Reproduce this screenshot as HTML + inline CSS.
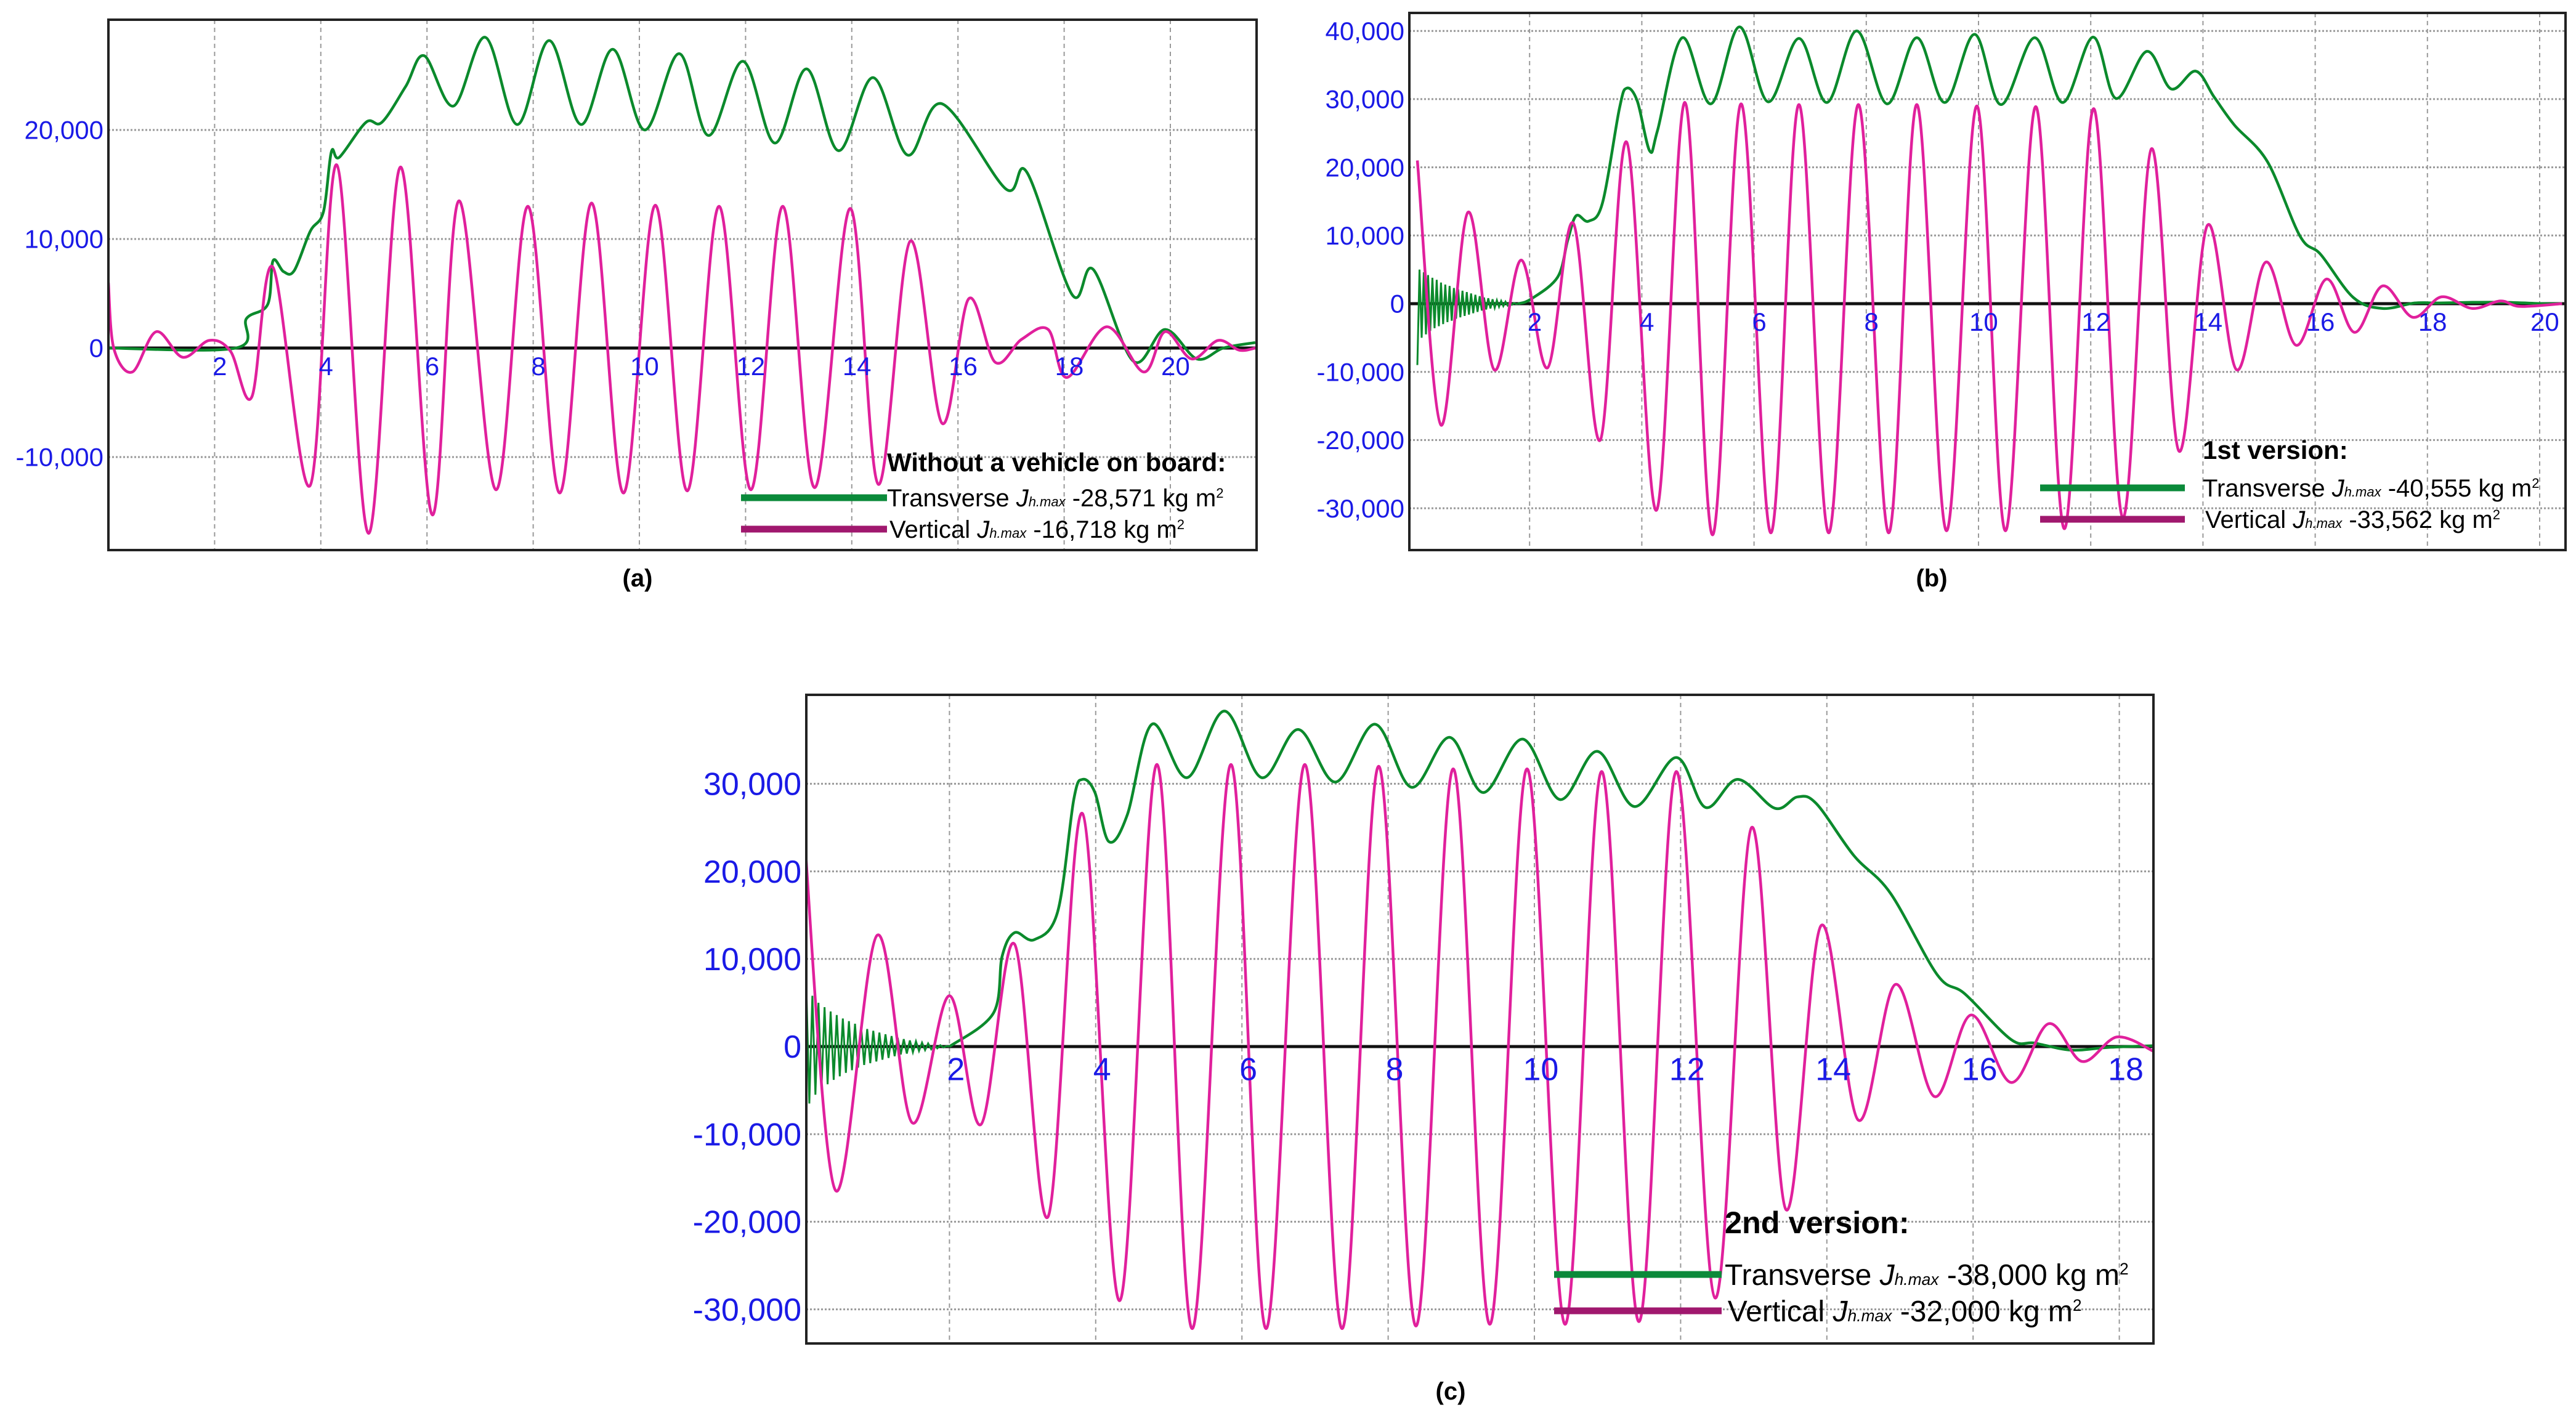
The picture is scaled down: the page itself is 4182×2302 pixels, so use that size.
<!DOCTYPE html>
<html><head><meta charset="utf-8"><style>
html,body{margin:0;padding:0;background:#fff;width:4182px;height:2302px;overflow:hidden}
svg{display:block}
text{font-family:"Liberation Sans",sans-serif}
</style></head><body>
<svg id="fig" width="4182" height="2302" viewBox="0 0 4182 2302" xmlns="http://www.w3.org/2000/svg">
<rect width="4182" height="2302" fill="#fff"/>
</svg>
<script>
// ---------- Panel (a) data ----------
const aVertT=[0,0.1,0.45,0.9,1.4,1.9,2.3,2.7,3.1,3.8,4.3,4.9,5.5,6.1,6.6,7.3,7.9,8.5,9.1,9.7,10.3,10.9,11.5,12.1,12.7,13.3,13.97,14.5,15.1,15.7,16.2,16.7,17.2,17.7,18.05,18.8,19.5,19.9,20.4,20.9,21.3,21.6];
const aVertV=[6000,0,-2200,1500,-850,700,-300,-4500,7400,-12600,16800,-17000,16600,-15300,13500,-13000,13000,-13300,13300,-13300,13100,-13100,13000,-13000,13000,-12800,12800,-12500,9800,-6900,4500,-1300,800,1700,-2700,1950,-2200,1500,-1000,700,-200,0];
const aTranT=[0,2.4,2.6,3.0,3.1,3.3,3.5,3.8,4.05,4.2,4.35,4.85,5.15,5.6,5.95,6.5,7.1,7.7,8.3,8.9,9.5,10.1,10.75,11.3,11.95,12.55,13.15,13.75,14.4,15.05,15.7,16.9,17.3,18.15,18.55,19.3,19.9,20.5,21.0,21.6];
const aTranV=[0,0,2700,4000,8000,7000,7100,10700,12500,18000,17500,20700,20700,24000,26800,22200,28500,20500,28200,20500,27400,20000,27000,19500,26300,18800,25600,18100,24800,17700,22400,14600,16100,4900,7200,-1200,1700,-1000,0,500];
const aYTicks=[20000,10000,0,-10000];
const aYLabels=["20,000","10,000","0","-10,000"];
const aXTicks=[2,4,6,8,10,12,14,16,18,20];

// ---------- Panel (b) data ----------
const bVertT=[0,0.42,0.9,1.37,1.85,2.32,2.78,3.26,3.73,4.26,4.77,5.26,5.77,6.3,6.8,7.33,7.86,8.4,8.9,9.43,9.97,10.48,11.02,11.53,12.05,12.57,13.08,13.57,14.08,14.6,15.12,15.66,16.2,16.7,17.2,17.74,18.25,18.8,19.3,19.65,20.4];
const bVertV=[21000,-17800,13400,-9700,6400,-9400,11800,-20000,23700,-30300,29500,-33900,29300,-33600,29200,-33600,29200,-33600,29200,-33300,29000,-33300,28900,-33000,28600,-31400,22700,-21600,11500,-9700,6100,-6100,3600,-4200,2600,-2000,1000,-700,400,-400,0];
const bTranT=[1.8,2.03,2.5,2.68,2.83,3.05,3.3,3.6,3.73,3.92,4.14,4.28,4.72,5.23,5.74,6.25,6.8,7.3,7.83,8.37,8.9,9.4,9.93,10.4,11.0,11.5,12.04,12.45,13.0,13.43,13.87,14.2,14.56,15.15,15.73,16.1,16.68,17.2,17.77,18.2,18.8,19.37,20.1,20.4];
const bTranV=[0,700,3900,9300,12900,12100,14800,28600,31600,29700,22400,25400,39000,29300,40600,29600,38900,29500,40000,29300,39000,29500,39500,29200,39000,29500,39100,30100,37000,31500,34100,30300,26200,20800,9900,7200,900,-700,100,100,200,200,0,0];
const bChatter=[-9000,5000,-5000,4600,-4500,4200,-4000,3800,-3600,3500,-3300,3100,-3000,2800,-2700,2600,-2500,2300,-2200,2100,-2000,1900,-1800,1700,-1600,1500,-1400,1300,-1200,1100,-1000,900,-850,800,-700,650,-600,500,-450,400,-350,300,-250,200,-150,100,-50,0];
const bYTicks=[40000,30000,20000,10000,0,-10000,-20000,-30000];
const bYLabels=["40,000","30,000","20,000","10,000","0","-10,000","-20,000","-30,000"];
const bXTicks=[2,4,6,8,10,12,14,16,18,20];

// ---------- Panel (c) data ----------
const cVertT=[0,0.44,1.01,1.49,2.0,2.43,2.89,3.35,3.82,4.33,4.84,5.32,5.85,6.33,6.86,7.37,7.87,8.38,8.89,9.39,9.9,10.42,10.92,11.43,11.94,12.47,12.97,13.44,13.92,14.43,14.94,15.47,15.97,16.52,17.03,17.49,17.97,18.48];
const cVertV=[26000,-16400,12700,-8700,5800,-8900,11700,-19400,26600,-29000,32200,-32200,32200,-32200,32200,-32200,32000,-31900,31700,-31700,31700,-31700,31400,-31400,31400,-28700,25000,-18600,13800,-8400,7100,-5700,3600,-4100,2600,-1700,1100,-600];
const cTranT=[2.0,2.6,2.72,2.89,3.16,3.48,3.7,3.82,3.99,4.18,4.43,4.77,5.25,5.76,6.27,6.77,7.28,7.82,8.32,8.84,9.3,9.84,10.35,10.86,11.37,11.94,12.34,12.78,13.29,13.6,13.86,14.37,14.87,15.51,15.89,16.52,16.84,17.34,17.85,18.48,18.7];
const cTranV=[0,3800,10300,13000,12200,15400,28200,30500,29000,23400,26400,36800,30700,38300,30700,36200,30200,36800,29600,35300,29000,35100,28200,33700,27400,33000,27300,30500,27200,28500,27700,21800,17500,8200,6000,800,400,-400,-100,100,100];
const cChatter=[-10000,7000,-6500,5800,-5500,5000,-4800,4500,-4300,4000,-3800,3600,-3400,3200,-3000,2900,-2700,2600,-2400,2300,-2100,2000,-1900,1800,-1700,1600,-1500,1400,-1300,1200,-1100,1000,-900,850,-800,700,-650,600,-500,450,-400,350,-300,250,-200,150,-100,50,0];
const cYTicks=[30000,20000,10000,0,-10000,-20000,-30000];
const cYLabels=["30,000","20,000","10,000","0","-10,000","-20,000","-30,000"];
const cXTicks=[2,4,6,8,10,12,14,16,18];

const NS="http://www.w3.org/2000/svg";
const svg=document.getElementById('fig');
function mk(tag,attrs,parent){const e=document.createElementNS(NS,tag);for(const k in attrs)e.setAttribute(k,attrs[k]);(parent||svg).appendChild(e);return e;}

function crPath(pts){
  if(pts.length<2)return '';
  let d='M'+pts[0][0].toFixed(1)+','+pts[0][1].toFixed(1);
  for(let i=0;i<pts.length-1;i++){
    const p0=pts[Math.max(0,i-1)],p1=pts[i],p2=pts[i+1],p3=pts[Math.min(pts.length-1,i+2)];
    const c1x=p1[0]+(p2[0]-p0[0])/6,c1y=p1[1]+(p2[1]-p0[1])/6;
    const c2x=p2[0]-(p3[0]-p1[0])/6,c2y=p2[1]-(p3[1]-p1[1])/6;
    d+=' C'+c1x.toFixed(1)+','+c1y.toFixed(1)+' '+c2x.toFixed(1)+','+c2y.toFixed(1)+' '+p2[0].toFixed(1)+','+p2[1].toFixed(1);
  }
  return d;
}

function panel(cfg){
  const g=mk('g',{});
  
  
  const {L,R,T,B,x0,ux,y0,uy}=cfg;
  const X=t=>x0+t*ux, Y=v=>y0-v*uy/10000;
  cfg.xt.forEach(t=>{
    const l=mk('line',{x1:X(t),x2:X(t),y1:T,y2:B,stroke:'#9a9a9a','stroke-width':2,'stroke-dasharray':'7,6'},g);
    
    
  });
  cfg.yt.forEach(v=>{
    if(v===0)return;
    const l=mk('line',{x1:L,x2:R,y1:Y(v),y2:Y(v),stroke:'#9a9a9a','stroke-width':3,'stroke-dasharray':'3,3'},g);
    
    
  });
  const z=mk('line',{x1:L,x2:R,y1:Y(0),y2:Y(0),stroke:'#111','stroke-width':5},g);
  
  
  const cid='clip'+cfg.name;
  const cp=mk('clipPath',{id:cid},g);mk('rect',{x:L,y:T,width:R-L,height:B-T},cp);
  const cg=mk('g',{'clip-path':'url(#'+cid+')'},g);
  if(cfg.chat){
    const pts=[];const n=cfg.chat.length;
    for(let i=0;i<n;i++)pts.push([X(i*cfg.chatEnd/(n-1)),Y(cfg.chat[i])]);
    const p=mk('polyline',{points:pts.map(p=>p.join(',')).join(' '),fill:'none',stroke:'#0b8a2c','stroke-width':3},cg);
    
    
  }
  const tp=cfg.tt.map((t,i)=>[X(t),Y(cfg.tv[i])]);
  const gp=mk('path',{d:crPath(tp),fill:'none',stroke:'#0b8a2c','stroke-width':4.5},cg);
  
  
  const vp=cfg.vt.map((t,i)=>[X(t),Y(cfg.vv[i])]);
  const mp=mk('path',{d:crPath(vp),fill:'none',stroke:'#e0209c','stroke-width':4.5},cg);
  
  
  const fr=mk('rect',{x:L,y:T,width:R-L,height:B-T,fill:'none',stroke:'#222','stroke-width':4},g);
  
  
  cfg.yt.forEach((v,i)=>{
    const t=mk('text',{x:L-8,y:Y(v)+cfg.fs*0.35,'text-anchor':'end','font-size':cfg.fs,fill:'#1a1ae6'},g);
    t.textContent=cfg.yl[i];
    
    
  });
  cfg.xt.forEach(v=>{
    const t=mk('text',{x:X(v)+cfg.fs*0.2,y:Y(0)+cfg.fs*1.05,'text-anchor':'middle','font-size':cfg.fs,fill:'#1a1ae6'},g);
    t.textContent=String(v);
    
    
  });
  const lg=mk('g',{},g);
  
  
  const ti=mk('text',{x:cfg.lx,y:cfg.ly,'font-size':cfg.lfs*1.05,'font-weight':'bold',fill:'#000'},lg);
  ti.textContent=cfg.title;
  
  
  [[cfg.g1,'#0b8a3a','Transverse ',cfg.tval],[cfg.g2,'#a0186e','Vertical ',cfg.vval]].forEach((e,i)=>{
    const ln=mk('line',{x1:cfg.lx0,x2:cfg.lx1,y1:e[0],y2:e[0],stroke:e[1],'stroke-width':11},lg);
    
    
    const tx=mk('text',{x:cfg.lx+(i?cfg.lfs*0.1:0),y:e[0]+cfg.lfs*0.35,'font-size':cfg.lfs,fill:'#000'},lg);
    
    
    tx.innerHTML=e[2]+'<tspan font-style="italic">J</tspan><tspan font-style="italic" font-size="'+(cfg.lfs*0.55)+'">h.max</tspan> '+e[3]+' kg m<tspan font-size="'+(cfg.lfs*0.55)+'" dy="-'+(cfg.lfs*0.35)+'">2</tspan>';
  });
  const cap=mk('text',{x:cfg.capx,y:cfg.capy,'text-anchor':'middle','font-size':40,'font-weight':'bold',fill:'#000'},g);
  cap.textContent=cfg.cap;
  
  
}

panel({name:'panel-a',L:176,R:2040,T:32,B:893,x0:176,ux:86.2,y0:565,uy:177,
  xt:aXTicks,yt:aYTicks,yl:aYLabels,fs:42,tt:aTranT,tv:aTranV,vt:aVertT,vv:aVertV,
  title:'Without a vehicle on board:',lx:1440,ly:765,lx0:1203,lx1:1440,g1:808,g2:859,lfs:40,
  tval:'-28,571',vval:'-16,718',cap:'(a)',capx:1035,capy:952});
panel({name:'panel-b',L:2288,R:4165,T:21,B:893,x0:2301,ux:91.1,y0:493,uy:110.7,
  xt:bXTicks,yt:bYTicks,yl:bYLabels,fs:42,tt:bTranT,tv:bTranV,vt:bVertT,vv:bVertV,chat:bChatter,chatEnd:1.8,
  title:'1st version:',lx:3576,ly:745,lx0:3312,lx1:3547,g1:792,g2:843,lfs:40,
  tval:'-40,555',vval:'-33,562',cap:'(b)',capx:3136,capy:952});
panel({name:'panel-c',L:1309,R:3496,T:1128,B:2181,x0:1304,ux:118.7,y0:1699,uy:142.2,
  xt:cXTicks,yt:cYTicks,yl:cYLabels,fs:52,tt:cTranT,tv:cTranV,vt:cVertT,vv:cVertV,chat:cChatter,chatEnd:2.0,
  title:'2nd version:',lx:2800,ly:2002,lx0:2523,lx1:2795,g1:2069,g2:2128,lfs:48,
  tval:'-38,000',vval:'-32,000',cap:'(c)',capx:2355,capy:2272});
</script>
</body></html>
